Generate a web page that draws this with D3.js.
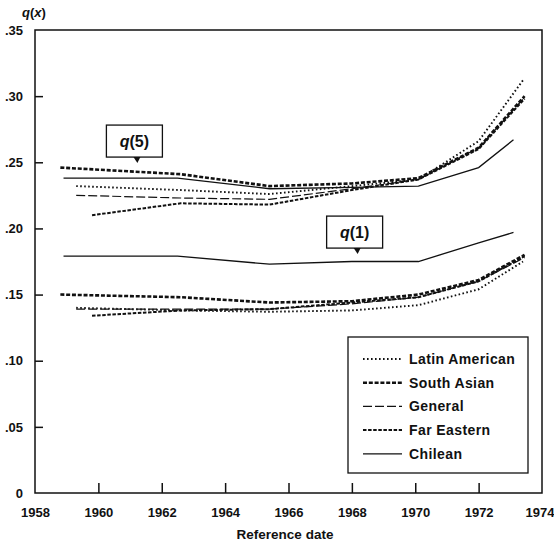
<!doctype html>
<html>
<head>
<meta charset="utf-8">
<title>q(x) by reference date</title>
<script src="https://cdn.jsdelivr.net/npm/d3@7"></script>
<style>
  body { margin: 0; background: white; }
  svg { display: block; font-family: "Liberation Sans", Arial, sans-serif; font-weight: bold; }
</style>
</head>
<body>
<svg id="chart" width="554" height="544"></svg>
<script>
// series, in legend order
var seriesNames = ['Latin American', 'South Asian', 'General', 'Far Eastern', 'Chilean'];

// reference dates for each series (breakpoints of the lines)
var yearsLatin   = [1959.3, 1962.6, 1965.4, 1968.0, 1970.1, 1972.0, 1973.4];
var yearsSouth   = [1958.8, 1962.6, 1965.4, 1968.0, 1970.1, 1972.0, 1973.45];
var yearsGeneral = [1959.3, 1962.6, 1965.4, 1968.0, 1970.1, 1972.0, 1973.45];
var yearsFar     = [1959.8, 1962.6, 1965.4, 1968.0, 1970.1, 1972.0, 1973.45];
var yearsChilean = [1958.9, 1962.5, 1965.4, 1968.0, 1970.1, 1972.0, 1973.1];

// q(5)
var q5Latin   = [.232, .229, .226, .232, .237, .266, .312];
var q5South   = [.246, .241, .232, .234, .238, .261, .300];
var q5General = [.225, .223, .222, .230, .237, .261, .299];
var q5Far     = [.210, .219, .218, .229, .237, .260, .298];
var q5Chilean = [.238, .238, .230, .231, .232, .246, .267];

// q(1)
var q1Latin   = [.140, .138, .137, .138, .142, .154, .175];
var q1South   = [.150, .148, .144, .145, .150, .161, .180];
var q1General = [.139, .139, .139, .143, .148, .160, .178];
var q1Far     = [.134, .138, .139, .144, .148, .160, .179];
var q1Chilean = [.179, .179, .173, .175, .175, .189, .197];

var xTicks = [1958, 1960, 1962, 1964, 1966, 1968, 1970, 1972, 1974];
var yTicks = [0, .05, .10, .15, .20, .25, .30, .35];
var yTickLabels = ['0', '.05', '.10', '.15', '.20', '.25', '.30', '.35'];

var seriesYears = [yearsLatin, yearsSouth, yearsGeneral, yearsFar, yearsChilean];
var seriesQ5 = [q5Latin, q5South, q5General, q5Far, q5Chilean];
var seriesQ1 = [q1Latin, q1South, q1General, q1Far, q1Chilean];

// line styles per series
var styles = [
  {dash: '1.6,2.4', width: 1.9},
  {dash: '4,1.8', width: 2.6},
  {dash: '9,3', width: 1.2},
  {dash: '3.5,1.6', width: 2.0},
  {dash: null, width: 1.3}
];

var svg = d3.select('#chart');
var plotL = 35, plotR = 542, plotT = 30, plotB = 493;

var x = d3.scaleLinear().domain([1958, 1974]).range([plotL, plotR]);
var y = d3.scaleLinear().domain([0, .35]).range([plotB, plotT]);

// frame
svg.append('rect')
    .attr('x', plotL).attr('y', plotT)
    .attr('width', plotR - plotL).attr('height', plotB - plotT)
    .attr('fill', 'none').attr('stroke', '#111').attr('stroke-width', 1.5);

// axes: inward ticks
var xAxis = d3.axisBottom(x).tickValues(xTicks).tickSize(-10).tickPadding(15)
    .tickFormat(d3.format('d'));
var gx = svg.append('g').attr('transform', 'translate(0,' + plotB + ')').call(xAxis);
gx.select('.domain').remove();
gx.selectAll('.tick line').attr('stroke', '#111').attr('stroke-width', 1.5);
gx.selectAll('.tick text').attr('fill', '#111').style('font-size', '13px')
    .style('font-family', '"Liberation Sans", Arial, sans-serif').style('font-weight', 'bold');
gx.selectAll('.tick').filter(function (d) { return d === 1958 || d === 1974; })
    .select('line').remove();
gx.selectAll('.tick').filter(function (d) { return d === 1974; })
    .select('text').attr('text-anchor', 'end').attr('x', 12);

var yAxis = d3.axisLeft(y).tickValues(yTicks).tickSize(-8).tickPadding(12)
    .tickFormat(function (d, i) { return yTickLabels[i]; });
var gy = svg.append('g').attr('transform', 'translate(' + plotL + ',0)').call(yAxis);
gy.select('.domain').remove();
gy.selectAll('.tick line').attr('stroke', '#111').attr('stroke-width', 1.5);
gy.selectAll('.tick text').attr('fill', '#111').style('font-size', '13px')
    .style('font-family', '"Liberation Sans", Arial, sans-serif').style('font-weight', 'bold');
gy.selectAll('.tick').filter(function (d) { return d === 0 || d === .35; })
    .select('line').remove();

// axis titles
var yTitle = svg.append('text').attr('x', 22).attr('y', 17)
    .style('font-size', '13px').attr('fill', '#111');
yTitle.append('tspan').style('font-style', 'italic').text('q');
yTitle.append('tspan').text('(');
yTitle.append('tspan').style('font-style', 'italic').text('x');
yTitle.append('tspan').text(')');

svg.append('text').attr('x', 285).attr('y', 539)
    .attr('text-anchor', 'middle').style('font-size', '13.5px').attr('fill', '#111')
    .text('Reference date');

// lines
var line = d3.line()
    .x(function (d) { return x(d[0]); })
    .y(function (d) { return y(d[1]); });

[seriesQ1, seriesQ5].forEach(function (group) {
  group.forEach(function (vals, i) {
    var pts = vals.map(function (v, j) { return [seriesYears[i][j], v]; });
    svg.append('path')
        .datum(pts)
        .attr('d', line)
        .attr('fill', 'none')
        .attr('stroke', '#111')
        .attr('stroke-width', styles[i].width)
        .attr('stroke-dasharray', styles[i].dash);
  });
});

// callout boxes
function callout(tipYear, tipVal, label) {
  var tx = x(tipYear), ty = y(tipVal);
  var bw = 56, bh = 32;
  var bx = tx - 30, by = ty - 6 - bh;
  var g = svg.append('g');
  g.append('rect').attr('x', bx).attr('y', by).attr('width', bw).attr('height', bh)
      .attr('fill', 'white').attr('stroke', '#111').attr('stroke-width', 1.3);
  g.append('path')
      .attr('d', 'M' + (tx - 3) + ',' + (by + bh) + 'L' + (tx + 4) + ',' + (by + bh) + 'L' + (tx + 1) + ',' + ty + 'Z')
      .attr('fill', '#111');
  var t = g.append('text').attr('x', bx + bw / 2).attr('y', by + bh / 2 + 6)
      .attr('text-anchor', 'middle').style('font-size', '16px').attr('fill', '#111');
  t.append('tspan').style('font-style', 'italic').text('q');
  t.append('tspan').text('(' + label + ')');
}
callout(1961.2, .2494, '5');
callout(1968.15, .1806, '1');

// legend
var lg = svg.append('g');
lg.append('rect').attr('x', 348).attr('y', 337).attr('width', 180).attr('height', 136)
    .attr('fill', 'white').attr('stroke', '#111').attr('stroke-width', 1.3);
seriesNames.forEach(function (name, i) {
  var ly = 359 + i * 23.7;
  lg.append('line').attr('x1', 363).attr('x2', 402).attr('y1', ly).attr('y2', ly)
      .attr('stroke', '#111')
      .attr('stroke-width', styles[i].width)
      .attr('stroke-dasharray', styles[i].dash);
  lg.append('text').attr('x', 409).attr('y', ly + 5)
      .style('font-size', '14px').style('letter-spacing', '0.4px')
      .attr('fill', '#111').text(name);
});
</script>
</body>
</html>
